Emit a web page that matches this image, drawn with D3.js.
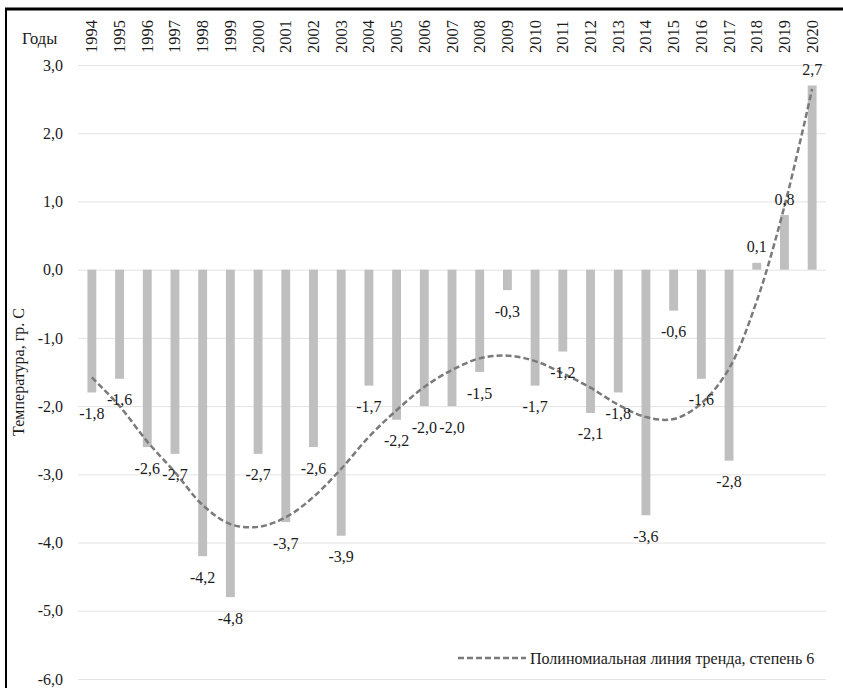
<!DOCTYPE html>
<html><head><meta charset="utf-8">
<script src="https://cdn.jsdelivr.net/npm/d3@7"></script>
<style>body{margin:0;background:#fff}svg{display:block}</style>
</head><body><svg id="c" width="843" height="688"></svg>
<script>
const years = ["1994","1995","1996","1997","1998","1999","2000","2001","2002","2003","2004","2005","2006","2007","2008","2009","2010","2011","2012","2013","2014","2015","2016","2017","2018","2019","2020"];
const temps = [-1.8,-1.6,-2.6,-2.7,-4.2,-4.8,-2.7,-3.7,-2.6,-3.9,-1.7,-2.2,-2.0,-2.0,-1.5,-0.3,-1.7,-1.2,-2.1,-1.8,-3.6,-0.6,-1.6,-2.8,0.1,0.8,2.7];
const trend = [-1.58,-2.0,-2.52,-2.97,-3.45,-3.73,-3.77,-3.63,-3.33,-2.92,-2.45,-2.06,-1.72,-1.47,-1.3,-1.26,-1.34,-1.52,-1.73,-1.98,-2.16,-2.19,-1.96,-1.45,-0.46,0.93,2.65];
const yTicks = [3,2,1,0,-1,-2,-3,-4,-5,-6];
const yTitle = "Температура, гр. С";
const xTitle = "Годы";
const legendText = "Полиномиальная линия тренда, степень 6";

const FONT = '"Liberation Serif"';
const TXT = "#1a1a1a";
const svg = d3.select("#c");
const L = 78, R = 826;
const x = d3.scaleBand().domain(years).range([L, R]).paddingInner(0.68).paddingOuter(0.34);
const y = d3.scaleLinear().domain([-6, 3]).range([679, 65]);
const fmt = v => d3.format(".1f")(v).replace(".", ",").replace("−", "-");

// border
svg.append("line").attr("x1", 5).attr("x2", 843).attr("y1", 9).attr("y2", 9).attr("stroke", "#000").attr("stroke-width", 3);
svg.append("line").attr("x1", 6).attr("x2", 6).attr("y1", 8).attr("y2", 688).attr("stroke", "#000").attr("stroke-width", 2);

// grid + y axis
const yAxis = d3.axisLeft(y).tickValues(yTicks).tickSize(-(R - L)).tickFormat(fmt);
const ga = svg.append("g").attr("transform", `translate(${L},0)`).call(yAxis);
ga.select(".domain").remove();
ga.selectAll(".tick line").attr("stroke", "#e3e3e3").attr("stroke-width", 1);
ga.selectAll(".tick text").attr("x", -15).attr("fill", TXT)
  .style("font-family", FONT).style("font-size", "16px");

// bars
svg.append("g").selectAll("rect").data(years).join("rect")
  .attr("x", d => x(d)).attr("width", x.bandwidth())
  .attr("y", (d, i) => y(Math.max(0, temps[i])))
  .attr("height", (d, i) => Math.abs(y(temps[i]) - y(0)))
  .attr("fill", "#bfbfbf");

// trend
const line = d3.line().x((d, i) => x(years[i]) + x.bandwidth() / 2).y(d => y(d)).curve(d3.curveCatmullRom.alpha(0.5));
svg.append("path").datum(trend).attr("d", line).attr("fill", "none")
  .attr("stroke", "#7a7a7a").attr("stroke-width", 2.5).attr("stroke-dasharray", "6,3");

// data labels
svg.append("g").selectAll("text").data(years).join("text")
  .attr("x", d => x(d) + x.bandwidth() / 2)
  .attr("y", (d, i) => temps[i] < 0 ? y(temps[i]) + 21 : y(temps[i]) - 16)
  .attr("text-anchor", "middle").attr("dominant-baseline", "central")
  .attr("fill", TXT).style("font-family", FONT).style("font-size", "16px")
  .text((d, i) => fmt(temps[i]));

// year labels
svg.append("g").selectAll("text").data(years).join("text")
  .attr("transform", d => `translate(${x(d) + x.bandwidth() / 2},53) rotate(-90)`)
  .attr("text-anchor", "start").attr("dominant-baseline", "central")
  .attr("fill", TXT).style("font-family", FONT).style("font-size", "16.5px").text(d => d);

svg.append("text").attr("x", 22).attr("y", 44).attr("fill", TXT)
  .style("font-family", FONT).style("font-size", "16.5px").text(xTitle);

svg.append("text").attr("transform", "translate(18,372) rotate(-90)")
  .attr("text-anchor", "middle").attr("dominant-baseline", "central").attr("fill", TXT)
  .style("font-family", FONT).style("font-size", "16px").text(yTitle);

// legend
const lg = svg.append("g").attr("transform", "translate(458,658)");
lg.append("line").attr("x1", 0).attr("x2", 68).attr("y1", 0).attr("y2", 0)
  .attr("stroke", "#7a7a7a").attr("stroke-width", 2.5).attr("stroke-dasharray", "6,3");
lg.append("text").attr("x", 72).attr("y", 0).attr("dominant-baseline", "central").attr("fill", TXT)
  .style("font-family", FONT).style("font-size", "16px").text(legendText);
</script></body></html>
